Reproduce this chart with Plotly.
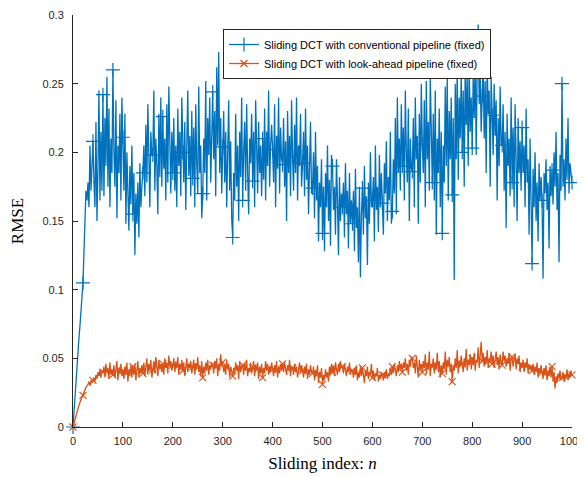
import plotly.graph_objects as go

# sample index step (every 2nd sliding index)
N_STEP = 2
N_MAX = 1000
MARK_EVERY = 10  # markers every 20 sliding indices

conventional = [
    0, .012, .024, .035, .047, .056, .065, .074, .086, .095,
    .105, .128, .150, .172, .165, .178, .160, .205, .172, .190,
    .208, .178, .160, .222, .150, .188, .245, .165, .215, .172,
    .242, .168, .225, .190, .255, .175, .232, .160, .210, .185,
    .260, .200, .175, .238, .152, .205, .185, .228, .165, .240,
    .211, .172, .228, .148, .200, .178, .143, .190, .162, .205,
    .155, .185, .125, .170, .148, .178, .138, .192, .160, .175,
    .185, .205, .168, .220, .178, .235, .192, .160, .215, .198,
    .198, .245, .172, .210, .190, .155, .228, .182, .240, .175,
    .226, .188, .210, .165, .235, .178, .248, .192, .170, .215,
    .185, .225, .172, .205, .160, .232, .190, .215, .168, .240,
    .200, .178, .222, .158, .205, .245, .183, .212, .168, .230,
    .181, .218, .160, .235, .192, .170, .248, .185, .205, .152,
    .170, .210, .185, .252, .165, .225, .198, .240, .178, .218,
    .244, .195, .230, .168, .262, .205, .273, .185, .225, .170,
    .204, .230, .178, .215, .160, .195, .238, .172, .208, .152,
    .138, .185, .165, .228, .175, .205, .150, .215, .182, .240,
    .165, .200, .222, .172, .235, .185, .155, .210, .192, .228,
    .179, .215, .160, .238, .195, .170, .222, .185, .205, .168,
    .210, .180, .232, .165, .215, .190, .245, .175, .205, .220,
    .202, .178, .235, .160, .212, .188, .240, .170, .218, .195,
    .191, .225, .175, .208, .150, .230, .185, .212, .168, .238,
    .197, .172, .220, .185, .240, .165, .205, .190, .228, .175,
    .192, .215, .168, .232, .180, .205, .155, .198, .222, .170,
    .174, .200, .152, .215, .165, .190, .135, .178, .160, .195,
    .141, .175, .128, .185, .160, .205, .150, .180, .132, .198,
    .190, .158, .175, .140, .195, .165, .125, .182, .150, .170,
    .160, .178, .138, .192, .155, .172, .130, .185, .148, .165,
    .148, .172, .128, .188, .145, .160, .120, .175, .109, .155,
    .174, .140, .190, .152, .168, .118, .178, .148, .200, .160,
    .165, .182, .135, .205, .158, .175, .142, .198, .160, .185,
    .163, .140, .192, .170, .208, .150, .182, .165, .215, .148,
    .157, .195, .170, .225, .155, .240, .185, .210, .172, .235,
    .190, .218, .165, .245, .200, .178, .232, .150, .210, .188,
    .186, .225, .160, .240, .195, .212, .148, .228, .178, .250,
    .206, .185, .238, .160, .252, .195, .222, .172, .255, .200,
    .178, .228, .165, .245, .140, .210, .185, .232, .160, .215,
    .141, .205, .178, .248, .190, .255, .165, .230, .195, .240,
    .169, .225, .107, .250, .195, .262, .180, .240, .210, .258,
    .200, .245, .175, .262, .220, .255, .190, .268, .215, .240,
    .203, .255, .225, .270, .198, .262, .293, .235, .258, .215,
    .241, .265, .210, .252, .185, .268, .228, .245, .175, .255,
    .227, .198, .250, .212, .238, .165, .225, .190, .248, .205,
    .205, .235, .172, .215, .145, .228, .190, .210, .168, .240,
    .178, .218, .160, .235, .195, .150, .225, .185, .208, .172,
    .218, .185, .205, .160, .232, .178, .195, .140, .210, .172,
    .119, .188, .160, .200, .150, .178, .135, .192, .165, .182,
    .165, .108, .185, .170, .195, .158, .178, .130, .190, .168,
    .187, .162, .200, .175, .215, .158, .185, .120, .198, .172,
    .250, .175, .195, .165, .210, .180, .225, .170, .192, .185,
    .178,
]

lookahead = [
    0, .003, .006, .008, .011, .013, .016, .018, .020, .021,
    .023, .025, .027, .029, .030, .031, .033, .030, .034, .032,
    .034, .036, .033, .038, .035, .040, .037, .042, .036, .041,
    .040, .044, .036, .046, .039, .043, .035, .047, .038, .042,
    .038, .045, .036, .041, .048, .034, .043, .039, .046, .037,
    .041, .035, .044, .038, .047, .033, .042, .037, .045, .036,
    .044, .038, .046, .034, .041, .048, .036, .043, .039, .045,
    .039, .047, .037, .044, .050, .038, .046, .041, .049, .036,
    .042, .048, .039, .051, .044, .037, .049, .042, .046, .040,
    .046, .038, .050, .043, .047, .039, .052, .044, .048, .041,
    .045, .050, .040, .047, .043, .051, .038, .046, .042, .049,
    .041, .047, .037, .045, .050, .040, .046, .043, .048, .039,
    .044, .049, .038, .046, .042, .051, .040, .045, .037, .048,
    .036, .044, .039, .047, .041, .049, .038, .045, .042, .047,
    .045, .039, .048, .043, .050, .037, .046, .041, .053, .044,
    .047, .040, .045, .038, .049, .042, .046, .036, .044, .040,
    .037, .043, .039, .047, .041, .045, .035, .048, .040, .044,
    .045, .038, .046, .041, .049, .037, .043, .040, .047, .039,
    .043, .048, .037, .045, .041, .047, .035, .044, .039, .046,
    .036, .043, .039, .048, .041, .046, .038, .044, .040, .047,
    .042, .037, .045, .040, .048, .036, .044, .039, .046, .041,
    .046, .040, .047, .043, .038, .045, .041, .049, .037, .044,
    .043, .038, .046, .040, .044, .036, .042, .047, .039, .045,
    .041, .036, .044, .039, .046, .035, .042, .038, .045, .040,
    .039, .044, .034, .041, .037, .045, .032, .040, .036, .043,
    .031, .038, .034, .042, .036, .040, .033, .044, .038, .046,
    .040, .045, .037, .047, .042, .038, .046, .040, .048, .043,
    .044, .039, .046, .041, .037, .044, .040, .047, .038, .042,
    .041, .036, .043, .038, .045, .034, .040, .036, .044, .037,
    .043, .038, .032, .041, .037, .044, .035, .040, .038, .046,
    .036, .041, .034, .039, .037, .043, .033, .038, .035, .040,
    .038, .034, .040, .036, .042, .035, .039, .037, .043, .038,
    .044, .039, .046, .041, .037, .045, .040, .048, .042, .046,
    .040, .047, .043, .050, .041, .046, .038, .049, .044, .051,
    .050, .043, .047, .039, .052, .044, .036, .049, .042, .046,
    .040, .048, .043, .053, .038, .047, .042, .055, .037, .046,
    .044, .050, .039, .047, .042, .054, .040, .048, .036, .045,
    .039, .047, .042, .055, .038, .049, .044, .051, .040, .046,
    .033, .045, .041, .050, .043, .056, .039, .048, .044, .052,
    .046, .040, .050, .044, .057, .041, .049, .045, .053, .042,
    .050, .045, .054, .041, .049, .047, .058, .043, .052, .062,
    .048, .054, .044, .051, .046, .056, .043, .050, .047, .055,
    .046, .052, .043, .049, .055, .045, .051, .042, .053, .047,
    .045, .055, .048, .052, .044, .050, .046, .054, .041, .049,
    .051, .044, .048, .053, .042, .050, .046, .052, .040, .047,
    .044, .049, .040, .047, .043, .050, .039, .046, .042, .045,
    .041, .046, .038, .044, .040, .047, .036, .043, .039, .045,
    .040, .035, .043, .038, .045, .034, .041, .037, .044, .036,
    .044, .033, .040, .028, .037, .032, .039, .035, .041, .034,
    .036, .040, .033, .038, .035, .042, .034, .039, .036, .041,
    .038,
]

series_names = [
    "Sliding DCT with conventional pipeline (fixed)",
    "Sliding DCT with look-ahead pipeline (fixed)",
]
x_ticks = [0, 100, 200, 300, 400, 500, 600, 700, 800, 900, 1000]
y_ticks = [0, 0.05, 0.1, 0.15, 0.2, 0.25, 0.3]
y_tick_text = ["0", "0.05", "0.1", "0.15", "0.2", "0.25", "0.3"]

BLUE = "#0072BD"
ORANGE = "#D95319"
AXC = "#262626"

n = list(range(0, N_MAX + 1, N_STEP))


def marker_colors(vals, color):
    return [color if i % MARK_EVERY == 0 else "rgba(0,0,0,0)" for i in range(len(vals))]


fig = go.Figure()
fig.add_trace(go.Scatter(
    x=n, y=conventional, name=series_names[0], mode="lines+markers",
    line=dict(color=BLUE, width=1.3),
    marker=dict(symbol="cross-thin-open", size=10,
                color=marker_colors(conventional, BLUE), line=dict(width=1.2)),
    cliponaxis=False,
))
fig.add_trace(go.Scatter(
    x=n, y=lookahead, name=series_names[1], mode="lines+markers",
    line=dict(color=ORANGE, width=1.3),
    marker=dict(symbol="x-thin-open", size=7,
                color=marker_colors(lookahead, ORANGE), line=dict(width=1.2)),
    cliponaxis=False,
))

# the page body adds an 8px offset, so the figure is sized to the remaining window
fig.update_layout(
    width=577, height=469,
    margin=dict(l=65, r=13, t=7, b=50),
    paper_bgcolor="white", plot_bgcolor="white",
    font=dict(family="Liberation Sans, Arial, sans-serif", size=11, color=AXC),
    showlegend=True,
    legend=dict(
        x=0.3006, y=0.966, xanchor="left", yanchor="top",
        bgcolor="white", bordercolor=AXC, borderwidth=1,
        font=dict(family="Liberation Sans, Arial, sans-serif", size=11, color="#000000"),
        tracegroupgap=0, entrywidth=275, entrywidthmode="pixels",
    ),
)
fig.update_xaxes(
    range=[0, 1000], tickvals=x_ticks, ticks="inside", ticklen=5,
    tickcolor=AXC, showline=True, linecolor=AXC, linewidth=1,
    showgrid=False, zeroline=False, mirror=False, automargin=False,
    tickfont=dict(size=11, color=AXC), ticklabelstandoff=4,
    title=dict(text="Sliding index: <i>n</i>", standoff=10,
               font=dict(family="Liberation Serif, DejaVu Serif, serif", size=17, color="#000000")),
)
fig.update_yaxes(
    range=[0, 0.3], tickvals=y_ticks, ticktext=y_tick_text, ticks="inside", ticklen=5,
    tickcolor=AXC, showline=True, linecolor=AXC, linewidth=1,
    showgrid=False, zeroline=False, mirror=False, automargin=False,
    tickfont=dict(size=11, color=AXC), ticklabelstandoff=6,
    title=dict(text="RMSE", standoff=14,
               font=dict(family="Liberation Serif, DejaVu Serif, serif", size=17, color="#000000")),
)

fig.write_html("out.html")
